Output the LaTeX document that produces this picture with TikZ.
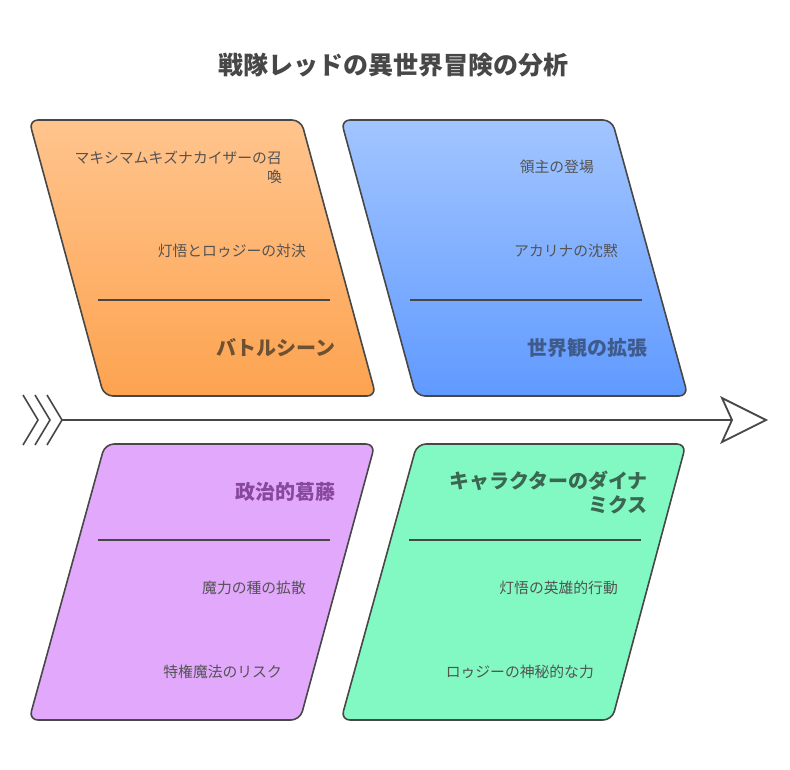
\documentclass[tikz,border=0pt]{standalone}
\usepackage{fontspec}
\setmainfont{Noto Sans CJK JP}
\definecolor{ink}{HTML}{474747}
\definecolor{bodytxt}{HTML}{535353}
\definecolor{orTop}{HTML}{FFC48D}
\definecolor{orBot}{HTML}{FDA350}
\definecolor{blTop}{HTML}{A2C5FF}
\definecolor{blBot}{HTML}{609AFF}
\definecolor{puFill}{HTML}{E2A8FC}
\definecolor{grFill}{HTML}{82F9C2}
\definecolor{orTxt}{HTML}{6E5131}
\definecolor{blTxt}{HTML}{3E5B8C}
\definecolor{puTxt}{HTML}{87479A}
\definecolor{grTxt}{HTML}{3B6752}
\tikzset{
  panel/.style={draw=ink, line width=1.6pt, rounded corners=9pt},
  divider/.style={draw=ink, line width=1.6pt},
  item/.style={anchor=east, text=bodytxt, font=\fontsize{14.8}{19}\selectfont, inner sep=0pt, align=right},
  cat/.style={anchor=east, font=\bfseries\fontsize{20}{24}\selectfont, inner sep=0pt, align=right},
  spine/.style={draw=ink, line width=1.8pt},
  chev/.style={draw=ink, line width=1.6pt},
}
\begin{document}
\begin{tikzpicture}[x=1pt,y=-1pt]
\useasboundingbox (0,0) rectangle (790,769);
% title
\node[font=\bfseries\fontsize{25}{29}\selectfont, text=ink, inner sep=0pt] (title) at (393,65) {戦隊レッドの異世界冒険の分析};
% panels
\shade[panel, top color=orTop, bottom color=orBot] (29,120) -- (301,120) -- (376,396) -- (104,396) -- cycle;
\shade[panel, top color=blTop, bottom color=blBot] (341,120) -- (612,120) -- (688,396) -- (416,396) -- cycle;
\path[panel, fill=puFill] (105,444) -- (375,444) -- (300,720) -- (29,720) -- cycle;
\path[panel, fill=grFill] (417,444) -- (686,444) -- (612,720) -- (341,720) -- cycle;
% dividers
\coordinate (d1a) at (98,300); \coordinate (d1b) at (330,300);
\coordinate (d2a) at (410,300); \coordinate (d2b) at (642,300);
\coordinate (d3a) at (98,540); \coordinate (d3b) at (330,540);
\coordinate (d4a) at (409,540); \coordinate (d4b) at (641,540);
\draw[divider] (d1a) -- (d1b);
\draw[divider] (d2a) -- (d2b);
\draw[divider] (d3a) -- (d3b);
\draw[divider] (d4a) -- (d4b);
% orange texts
\node[item] (o1) at (282,167) {マキシマムキズナカイザーの召\\喚};
\node[item] (o2) at (306,251) {灯悟とロゥジーの対決};
\node[cat, text=orTxt] (oc) at (336,348) {バトルシーン};
% blue texts
\node[item] (b1) at (594,167) {領主の登場};
\node[item] (b2) at (618,251) {アカリナの沈黙};
\node[cat, text=blTxt] (bc) at (648,348) {世界観の拡張};
% purple texts
\node[cat, text=puTxt] (pc) at (336,492) {政治的葛藤};
\node[item] (p1) at (306,588) {魔力の種の拡散};
\node[item] (p2) at (282,672) {特権魔法のリスク};
% green texts
\node[cat, text=grTxt] (gc) at (648,492) {キャラクターのダイナ\\ミクス};
\node[item] (g1) at (618,588) {灯悟の英雄的行動};
\node[item] (g2) at (594,672) {ロゥジーの神秘的な力};
% spine
\coordinate (tail) at (62,420);
\coordinate (notch) at (732,420);
\coordinate (tip) at (766,420);
\coordinate (hu) at (722,398);
\coordinate (hl) at (722,442);
\draw[spine] (tail) -- (notch);
\draw[spine, fill=white, line join=miter] (notch) -- (hu) -- (tip) -- (hl) -- cycle;
% chevrons
\foreach \i/\dx in {c1/0,c2/12,c3/24}{
  \coordinate (\i t) at (23+\dx,395);
  \coordinate (\i m) at (38+\dx,420);
  \coordinate (\i b) at (23+\dx,445);
  \draw[chev] (\i t) -- (\i m) -- (\i b);
}
\end{tikzpicture}
\end{document}
